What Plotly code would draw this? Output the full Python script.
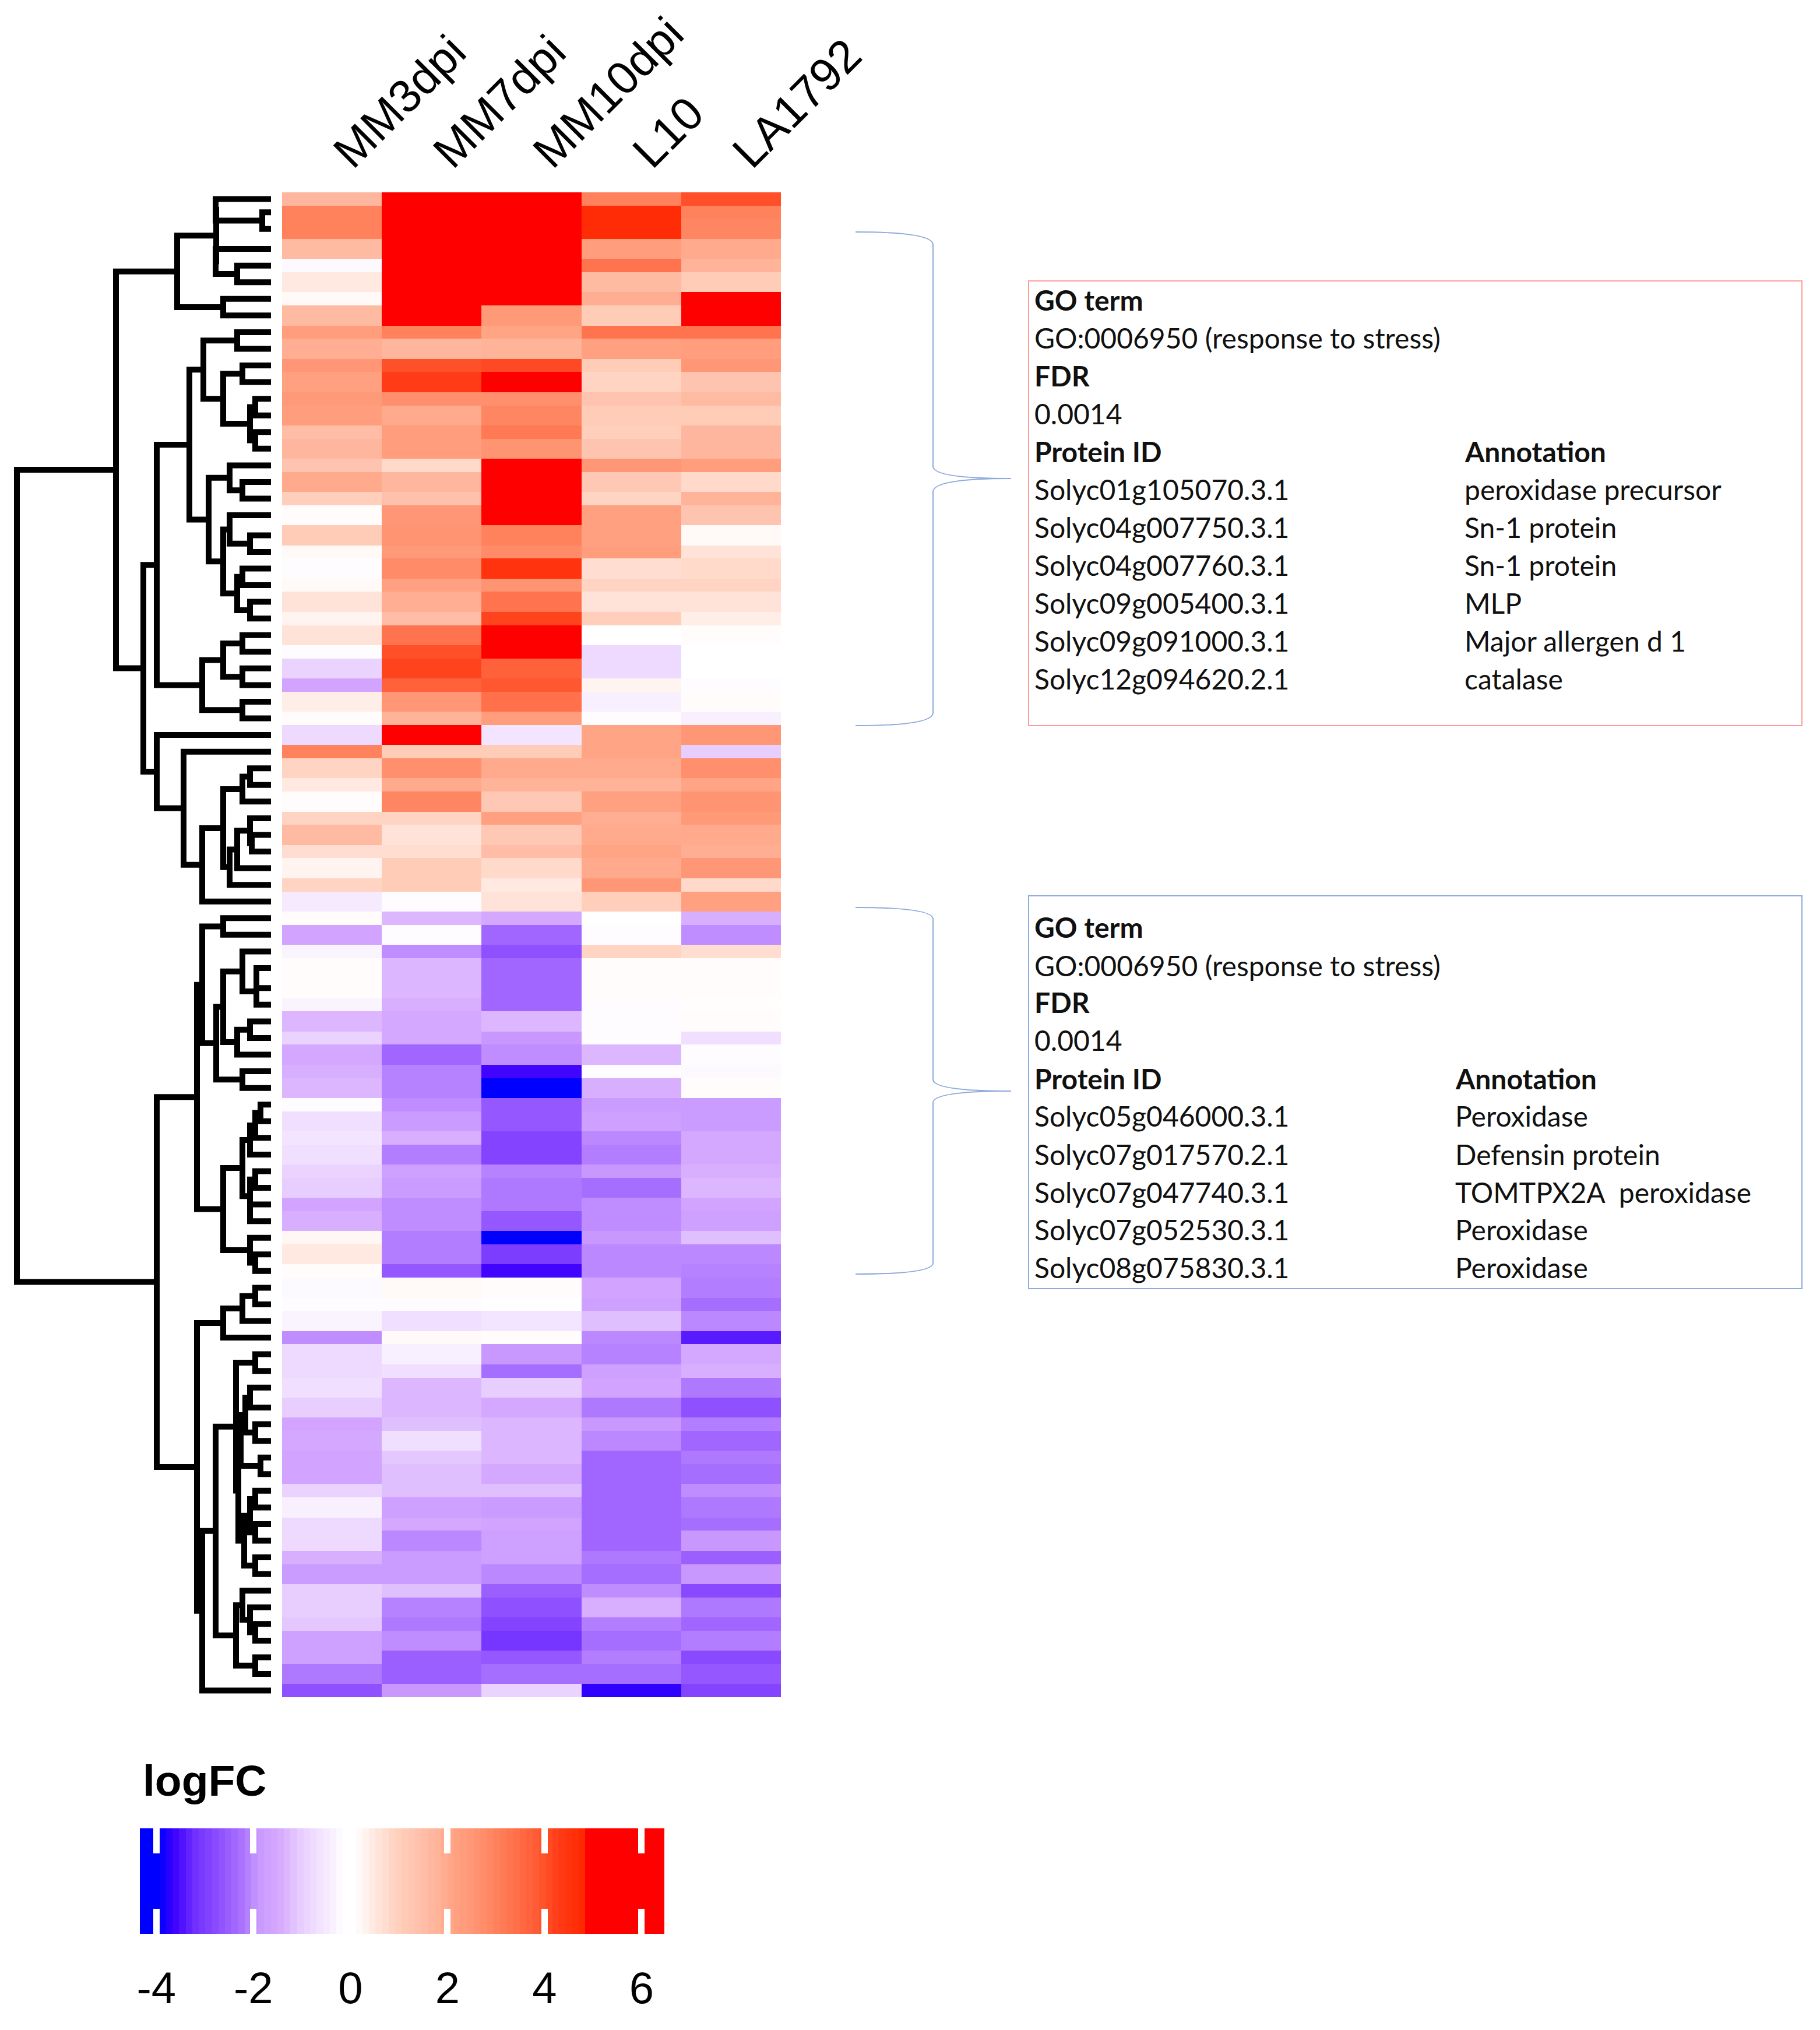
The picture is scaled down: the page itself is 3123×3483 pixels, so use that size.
import numpy as np
import plotly.graph_objects as go

W, H = 3123, 3483

samples = ["MM3dpi", "MM7dpi", "MM10dpi", "L10", "LA1792"]

# relative row heights as they appear in the raster figure
row_units = [2,2,3,3,2,3,2,3,2,3,2,3,2,3,2,3,2,3,2,3,3,2,3,2,3,2,3,2,3,2,3,2,3,2,
             3,2,3,2,3,2,3,2,3,2,3,2,3,3,2,3,2,3,2,3,2,3,2,3,2,3,2,3,2,3,2,3,2,
             3,2,3,2,3,3,2,3,2,3,2,3,2,3,2,3,2,3,2,3,2,3,2]

MM3dpi = [1.7,3,3,1.6,-0.2,0.5,0.2,1.6,2.3,1.9,2.5,2.2,2.4,2.3,1.5,1.7,1.3,2.0,1.0,0.15,1.1,0.2,-0.15,0.2,0.6,0.3,0.6,-0.15,-0.9,-1.6,0.4,0.15,-0.8,3.0,
          0.9,0.5,0.15,0.9,1.6,0.7,0.3,0.9,-0.5,0.15,-1.6,-0.3,0.15,0.15,-0.3,-1.3,-0.9,-1.5,-1.4,-1.3,-0.15,-0.7,-0.6,-0.7,-0.9,-1,-1.6,-1.4,0.25,0.5,0.15,-0.2,-0.15,-0.3,
          -2.0,-0.8,-0.8,-0.7,-1,-1.6,-1.5,-1.6,-1.6,-0.9,-0.4,-0.8,-0.8,-1.4,-1.8,-1,-1,-1.1,-1.7,-1.7,-2.2,-2.7]
MM7dpi = [6,6,6,6,6,6,6,6,3.0,1.7,4,4.3,2.7,2.0,2.3,2.3,0.8,1.7,1.4,2.5,2.6,2.4,2.8,2.2,1.9,1.5,3.3,4.0,4.2,3.7,2.5,1.8,6,1.1,
          2.7,2.0,2.9,0.9,0.6,0.7,1.1,1.1,-0.15,-1.3,-0.15,-2.0,-1.3,-1.3,-1.4,-1.5,-1.5,-2.4,-2.1,-2.1,-2,-1.8,-1.4,-2.15,-1.7,-1.8,-2.0,-2.0,-2.15,-2.15,-2.6,0.2,-0.15,-0.7,
          0.2,-0.4,-0.7,-1.3,-1.3,-1.2,-0.7,-1.1,-1.2,-1.2,-1.7,-1.5,-2.05,-1.8,-1.8,-1.2,-2.1,-2.2,-2,-2.5,-2.5,-1.9]
MM10dpi = [6,6,6,6,6,6,6,2.4,2.1,1.8,4.1,6,2.7,2.9,3.2,2.6,6,6,6,5.2,3.0,2.8,4.5,2.6,3.3,4.2,6,6,3.7,3.9,3.4,2.3,-0.6,1.1,
           2.0,1.8,1.2,2.2,1.2,1.5,0.8,0.5,0.6,-1.5,-2.4,-2.7,-2.4,-2.4,-2.4,-1.3,-1.9,-2.0,-3.6,-4,-2.6,-2.6,-2.9,-2.9,-2.1,-2.2,-2.2,-2.6,-4,-3.0,-3.6,0.15,0,-0.6,
           0.15,-1.9,-2.3,-1,-1.5,-1.3,-1.3,-1.3,-1.5,-1.2,-1.8,-1.6,-1.7,-1.7,-2.05,-2.5,-2.7,-2.9,-3.1,-2.6,-2.3,-0.9]
L10 = [3,4.7,4.7,2.3,3.3,1.6,1.9,1.1,3.3,2.2,1.1,0.9,1.3,1.1,1.0,1.3,2.5,1.2,0.9,2.2,2.2,2.3,0.7,0.9,0.6,1.0,0,-0.8,-0.8,0.3,-0.4,-0.15,2.1,2.1,
       2.0,1.8,2.2,1.9,2.0,2.1,2.0,2.5,1.0,0,-0.15,0.9,0.15,0.15,-0.15,-0.15,-0.15,-1.3,-0.15,-1.4,-1.8,-1.7,-2.05,-2.15,-1.9,-2.3,-2.0,-2.0,-1.9,-2.05,-2.05,-1.6,-1.7,-1.2,
       -2.05,-2.1,-1.7,-1.6,-2.2,-1.9,-2.05,-2.4,-2.4,-2.4,-2.4,-2.4,-2.4,-2.2,-2.3,-2.0,-1.4,-2.15,-2.3,-2.15,-2.3,-3.7]
LA1792 = [4,3,2.9,2.0,1.8,1.1,6,6,3.3,2.3,2.5,1.3,1.6,1.1,1.7,1.7,2.3,0.8,1.8,1.3,0.2,0.6,0.8,0.9,0.6,0.4,0.15,0,0,-0.15,0.15,-0.4,2.5,-1.0,
          2.7,2.1,2.6,2.4,2.0,1.9,2.5,0.8,2.2,-1.4,-2.0,0.7,0.15,0.15,0.12,0.15,-0.7,-0.15,-0.2,0.15,-1.8,-1.8,-1.5,-1.5,-1.4,-1.3,-1.6,-1.7,-1.2,-2.05,-2.1,-2.15,-2.3,-2.05,
          -3.4,-1.5,-1.4,-2.2,-2.7,-2.15,-2.4,-2.2,-2.3,-2.0,-2.2,-2.3,-1.9,-2.5,-1.9,-2.8,-2.2,-2.4,-2.15,-2.8,-2.6,-2.9]

# colour scale: (logFC, colour)
scale_values = [-3.94,-3.64,-3.2,-2.7,-2.27,-1.9,-1.46,-1.06,-0.65,-0.1,0.1,0.58,0.98,1.42,1.82,2.2,2.6,3.06,3.46,3.86,4.28,4.8,4.83]
scale_colors = ["#0000ff","#3c00ff","#7030ff","#8f50ff","#a870ff","#c898ff","#d6aaff","#e6caff","#f2e2ff","#ffffff","#ffffff",
                "#ffe4da","#ffd0bc","#ffc0ab","#ffb298","#ffa080","#ff9472","#ff7f5a","#ff6d48","#ff5a33","#ff3d18","#ff2800","#ff0000"]
legend_min, legend_max = -4.34, 6.47
legend_ticks = [-4, -2, 0, 2, 4, 6]
legend_ticktext = ["-4", "-2", "0", "2", "4", "6"]
legend_title = "logFC"

# dendrogram: [merge height, child, child]; integers are row indices
n45 = [25, 46, 47]
tree_A1 = [161, [94, [95, 0, [15, 1, 2]], [95, 3, [58, 4, 5]]], [82, 6, 7]]
tree_A2a = [140, [116, [58, 8, 9], [82, [49, 10, 11], [36, [27, 12, 13], [27, 14, 15]]]],
            [107, [71, 16, [49, 17, 18]], [82, [71, 19, [36, 20, 21]], [58, [49, 22, 23], [36, 24, 25]]]]]
tree_A2b = [118, [82, [49, 26, 27], [49, 28, 29]], [49, 30, 31]]
tree_A3 = [196, 32, [150, 33, [118, [82, [49, [36, 34, 35], 36],
            [71, [58, [36, 37, [33, 38, 39]], 40], 41]], 42]]]
tree_A = [266, tree_A1, [219, [196, tree_A2a, tree_A2b], tree_A3]]
tree_B1a = [118, [82, 43, 44],
            [94, [82, [49, 45, [25, n45, 48]], [58, [36, 49, 50], 51]], [49, 52, 53]]]
tree_B1b = [82, [49, [36, [27, [18, 54, 55], 56], 57], [36, [27, 58, 59], [36, 60, 61]]],
            [36, 62, [27, 63, 64]]]
tree_B2a = [82, [49, [27, 65, 66], 67], 68]
tree_B2b = [118, [95, [60, [27, 69, 70], [56, [52, [44, [36, 71, 72], [27, 73, 74]], [18, 75, 76]],
                                           [46, [36, [27, 77, 78], [27, 79, 80]], [27, 81, 82]]]],
                  [60, [49, 83, [36, 84, [27, 85, 86]]], [27, 87, 88]]], 89]
tree_B = [196, [127, tree_B1a, tree_B1b], [127, tree_B2a, tree_B2b]]
tree_root = [436, tree_A, tree_B]

box_rows_1 = [("GO term", "", True), ("GO:0006950 (response to stress)", "", False), ("FDR", "", True), ("0.0014", "", False),
              ("Protein ID", "Annotation", True), ("Solyc01g105070.3.1", "peroxidase precursor", False),
              ("Solyc04g007750.3.1", "Sn-1 protein", False), ("Solyc04g007760.3.1", "Sn-1 protein", False),
              ("Solyc09g005400.3.1", "MLP", False), ("Solyc09g091000.3.1", "Major allergen d 1", False),
              ("Solyc12g094620.2.1", "catalase", False)]
box_rows_2 = [("GO term", "", True), ("GO:0006950 (response to stress)", "", False), ("FDR", "", True), ("0.0014", "", False),
              ("Protein ID", "Annotation", True), ("Solyc05g046000.3.1", "Peroxidase", False),
              ("Solyc07g017570.2.1", "Defensin protein", False), ("Solyc07g047740.3.1", "TOMTPX2A  peroxidase", False),
              ("Solyc07g052530.3.1", "Peroxidase", False), ("Solyc08g075830.3.1", "Peroxidase", False)]

# ---------------- geometry helpers
px = lambda x: x / W
py = lambda y: 1 - y / H

edges = np.concatenate([[0], np.cumsum(row_units)])
centers = (edges[:-1] + edges[1:]) / 2
z = np.array([MM3dpi, MM7dpi, MM10dpi, L10, LA1792]).T
zmin, zmax = scale_values[0], scale_values[-1]
colorscale = [[(v - zmin) / (zmax - zmin), c] for v, c in zip(scale_values, scale_colors)]

seg_x, seg_y = [], []
def walk(node):
    if isinstance(node, int):
        return 0.0, float(centers[node])
    h, a, b = node
    ha, ya = walk(a)
    hb, yb = walk(b)
    seg_x.extend([ha, h, h, hb, None])
    seg_y.extend([ya, ya, yb, yb, None])
    return h, (ya + yb) / 2
_, root_y = walk(tree_root)

fig = go.Figure()
fig.add_trace(go.Heatmap(z=z, x=list(range(5)), y=edges, zmin=zmin, zmax=zmax, colorscale=colorscale,
                         showscale=False, xaxis="x", yaxis="y", hoverongaps=False))
fig.add_trace(go.Scatter(x=seg_x, y=seg_y, mode="lines", line=dict(color="black", width=10),
                         xaxis="x2", yaxis="y", showlegend=False, hoverinfo="skip"))
legend_edges = np.arange(legend_min, legend_max + 0.135, 0.135)
legend_z = [(legend_edges[:-1] + legend_edges[1:]) / 2]
fig.add_trace(go.Heatmap(z=legend_z, x=legend_edges, y=[0, 1], zmin=zmin, zmax=zmax, colorscale=colorscale,
                         showscale=False, xaxis="x3", yaxis="y3"))

shapes = []
def box(x0, y0, x1, y1, color):
    shapes.append(dict(type="rect", xref="paper", yref="paper", x0=px(x0), x1=px(x1), y0=py(y0), y1=py(y1),
                       line=dict(color=color, width=2)))
box(1765, 482, 3092, 1245, "#ff9c9c")
box(1765, 1537, 3092, 2211, "#8faadc")

def brace(pts):
    (x0, y0), (xm, yt), (xm2, y1), (tx, ty), (xm3, y2), (xm4, y3), (x4, y4) = pts
    P = lambda x, y: f"{px(x):.5f},{py(y):.5f}"
    d = (f"M{P(x0,y0)} Q{P(xm,y0)} {P(xm,yt)} L{P(xm2,y1)} Q{P(xm2,ty)} {P(tx,ty)} "
         f"Q{P(xm3,ty)} {P(xm3,y2)} L{P(xm4,y3)} Q{P(xm4,y4)} {P(x4,y4)}")
    shapes.append(dict(type="path", xref="paper", yref="paper", path=d, line=dict(color="#8faadc", width=2)))
brace([(1468,398),(1601,420),(1601,800),(1735,821),(1601,844),(1601,1223),(1468,1245)])
brace([(1468,1557),(1601,1577),(1601,1852),(1735,1872),(1601,1892),(1601,2167),(1468,2186)])

annotations = []
TXT = dict(family="Lato", size=48, color="#111111")
def table(rows, ys, x1, x2):
    for (a, b, bold), y in zip(rows, ys):
        for text, x in ((a, x1), (b, x2)):
            if text:
                annotations.append(dict(xref="paper", yref="paper", x=px(x), y=py(y), xanchor="left", yanchor="middle",
                                        showarrow=False, font=TXT, text=f"<b>{text}</b>" if bold else text))
table(box_rows_1, [515,580,645,709,774,839,904,969,1034,1099,1164], 1773, 2511)
table(box_rows_2, [1590,1656,1719,1784,1850,1914,1980,2045,2109,2174], 1773, 2495)
annotations.append(dict(xref="paper", yref="paper", x=px(243), y=py(3055), xanchor="left", yanchor="middle", showarrow=False,
                        text=f"<b>{legend_title}</b>", font=dict(family="Liberation Sans", size=75, color="black")))

fig.update_layout(
    width=W, height=H, margin=dict(l=0, r=0, t=0, b=0, autoexpand=False), paper_bgcolor="white", plot_bgcolor="white",
    showlegend=False, shapes=shapes, annotations=annotations,
    xaxis=dict(domain=[px(484), px(1340)], range=[-0.5, 4.5], side="top", anchor="y", tickmode="array", automargin=False,
               tickvals=list(range(5)), ticktext=samples, tickangle=-45, showgrid=False, zeroline=False, showline=False,
               ticks="", ticklabelstandoff=9, ticklabelshift=8,
               tickfont=dict(family="Liberation Sans", size=79, color="black")),
    yaxis=dict(domain=[py(2912), py(330)], range=[float(edges[-1]), 0], showticklabels=False, showgrid=False, automargin=False,
               zeroline=False, ticks="", showline=False, anchor="x"),
    xaxis2=dict(domain=[0, px(465)], range=[465, 0], visible=False, anchor="y", automargin=False),
    xaxis3=dict(domain=[px(240), px(1140)], range=[legend_min, legend_max], anchor="y3", tickmode="array", automargin=False,
                tickvals=legend_ticks, ticktext=legend_ticktext, ticks="inside", ticklen=43, tickwidth=11, tickcolor="white", mirror="ticks",
                showline=False, showgrid=False, zeroline=False, ticklabelstandoff=42,
                tickfont=dict(family="Liberation Sans", size=76, color="black")),
    yaxis3=dict(domain=[py(3318), py(3137)], range=[0, 1], visible=False, anchor="x3", automargin=False),
)

fig.write_html("out.html", config=dict(displayModeBar=False), post_script=("document.body.style.margin='0';document.body.style.overflow='hidden';"
    "document.querySelectorAll('.js-line').forEach(function(e){e.style.strokeLinecap='round';});"))
